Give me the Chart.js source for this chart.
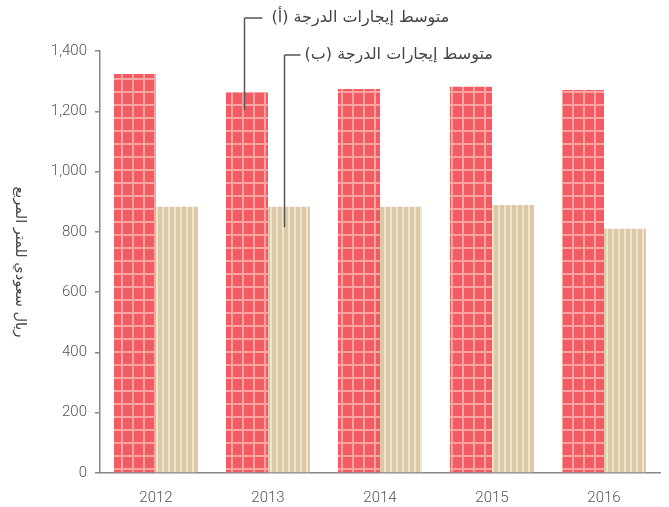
<!DOCTYPE html>
<html>
<head>
<meta charset="utf-8">
<script src="https://cdn.jsdelivr.net/npm/chart.js@4.4.1/dist/chart.umd.min.js"></script>
<style>
  html, body { margin: 0; padding: 0; background: #fff; }
  #wrap { width: 669px; height: 507px; }
</style>
</head>
<body>
<div id="wrap"><canvas id="chart"></canvas></div>
<script>
// data
const years = ["2012", "2013", "2014", "2015", "2016"];
const gradeA = [1324, 1264, 1274, 1281, 1271];
const gradeB = [883, 883, 883, 889, 810];
const labelA = "متوسط إيجارات الدرجة (أ)";
const labelB = "متوسط إيجارات الدرجة (ب)";
const yTitle = "ريال سعودي للمتر المربع";

const font = "Roboto, 'Liberation Sans', sans-serif";
const arFont = "'DejaVu Sans', 'Noto Sans', sans-serif";

function makePattern(w, h, draw) {
  const c = document.createElement("canvas");
  c.width = w;
  c.height = h;
  draw(c.getContext("2d"), w, h);
  return c.getContext("2d").createPattern(c, "repeat");
}

// red checks
const redPattern = makePattern(11, 13, (g, w, h) => {
  g.fillStyle = "#f25b62";
  g.fillRect(0, 0, w, h);
  g.fillStyle = "#f9a3a2";
  g.fillRect(0, 0, 2, h);
  g.fillRect(0, 0, w, 2);
});

// tan stripes
const tanPattern = makePattern(6, 6, (g, w, h) => {
  g.fillStyle = "#dbc9a6";
  g.fillRect(0, 0, w, h);
  g.fillStyle = "#ede3d0";
  g.fillRect(0, 0, 2, h);
});

// callouts + rotated y title
const extras = {
  id: "extras",
  afterDraw(chart) {
    const ctx = chart.ctx;
    const barA = chart.getDatasetMeta(0).data[1];
    const barB = chart.getDatasetMeta(1).data[1];
    const y = chart.scales.y;
    ctx.save();
    ctx.strokeStyle = "#555";
    ctx.lineWidth = 1.5;
    ctx.beginPath();
    let xa = Math.round(barA.x) - 2.5;
    ctx.moveTo(xa, 18);
    ctx.lineTo(xa + 18, 18);
    ctx.moveTo(xa, 18);
    ctx.lineTo(xa, y.getPixelForValue(1205));
    let xb = Math.round(barB.x) - 4.5;
    ctx.moveTo(xb, 55);
    ctx.lineTo(xb + 16, 55);
    ctx.moveTo(xb, 55);
    ctx.lineTo(xb, y.getPixelForValue(815));
    ctx.stroke();

    ctx.fillStyle = "#444";
    ctx.font = "16px " + arFont;
    ctx.direction = "rtl";
    ctx.textAlign = "left";
    ctx.textBaseline = "middle";
    ctx.fillText(labelA, xa + 27, 18);
    ctx.fillText(labelB, xb + 20, 55);

    ctx.font = "14.5px " + arFont;
    ctx.translate(20, (chart.chartArea.top + chart.chartArea.bottom) / 2);
    ctx.rotate(Math.PI / 2);
    ctx.textAlign = "center";
    ctx.fillText(yTitle, 0, 0);
    ctx.restore();
  }
};

new Chart(document.getElementById("chart"), {
  type: "bar",
  data: {
    labels: years,
    datasets: [
      {
        label: labelA,
        data: gradeA,
        backgroundColor: redPattern,
        categoryPercentage: 0.75,
        barPercentage: 1,
      },
      {
        label: labelB,
        data: gradeB,
        backgroundColor: tanPattern,
        categoryPercentage: 0.75,
        barPercentage: 1,
      },
    ],
  },
  options: {
    responsive: true,
    maintainAspectRatio: false,
    animation: false,
    layout: { padding: { top: 51, right: 9, left: 0, bottom: 0 } },
    plugins: {
      legend: { display: false },
      tooltip: { enabled: false },
    },
    scales: {
      x: {
        grid: { drawOnChartArea: false, drawTicks: false },
        border: { color: "#888", width: 1.5 },
        ticks: { color: "#555", font: { family: font, size: 15, weight: 300 }, padding: 16 },
        afterFit(scale) { scale.height = 34; },
      },
      y: {
        min: 0,
        max: 1400,
        ticks: {
          stepSize: 200,
          color: "#555",
          padding: 8,
          font: { family: font, size: 15, weight: 300 },
        },
        grid: { drawOnChartArea: false, tickLength: 5, color: "#888", lineWidth: 1.5 },
        border: { color: "#888", width: 1.5 },
        afterFit(scale) { scale.width = 100; },
      },
    },
  },
  plugins: [extras],
});
</script>
</body>
</html>
